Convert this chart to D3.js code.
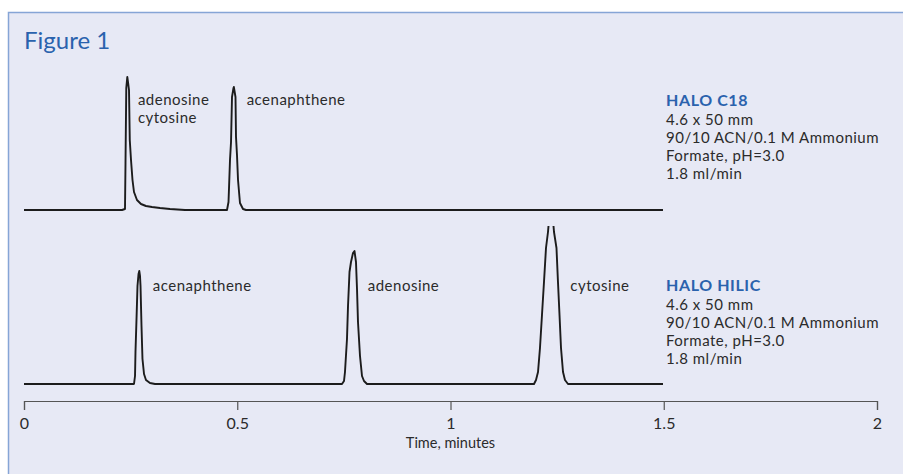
<!DOCTYPE html>
<html>
<head>
<meta charset="utf-8">
<script src="https://cdn.jsdelivr.net/npm/d3@7"></script>
<style>
  body { margin: 0; background: #fff; }
  text { font-family: Lato, "Open Sans", sans-serif; }
</style>
</head>
<body>
<div id="chart"></div>
<script>
// trace points: [time (min), detector signal]
var c18Time = [0, 0.2298, 0.2368, 0.2380, 0.2398, 0.2422, 0.2438, 0.2462, 0.2480, 0.2509, 0.2544, 0.2579,
  0.2649, 0.2743, 0.2860, 0.3001, 0.3189, 0.3423, 0.3775, 0.4760, 0.4795, 0.4807, 0.4830, 0.4854, 0.4877,
  0.4912, 0.4920, 0.4959, 0.4971, 0.4994, 0.5018, 0.5064, 0.5135, 0.5205, 1.4982];
var c18Signal = [0, 0, 1, 47, 122, 133, 128, 120, 70, 50, 30, 18,
  10, 6, 4, 3, 2, 1, 0, 0, 8, 22, 50, 68, 113,
  122, 123, 113, 73, 55, 30, 7, 1, 0, 0];

var hilicTime = [0, 0.2579, 0.2603, 0.2614, 0.2638, 0.2661, 0.2685, 0.2703, 0.2720, 0.2732, 0.2755, 0.2778,
  0.2814, 0.2860, 0.2954, 0.3072, 0.7456, 0.7503, 0.7526, 0.7573, 0.7597, 0.7632, 0.7667, 0.7714, 0.7749,
  0.7784, 0.7808, 0.7831, 0.7878, 0.7925, 0.7972, 0.8042, 1.1958, 1.2005, 1.2052, 1.2098, 1.2145, 1.2192,
  1.2239, 1.2286, 1.2321, 1.2356, 1.2391, 1.2427, 1.2485, 1.2520, 1.2556, 1.2591, 1.2638, 1.2684, 1.2755, 1.4982];
var hilicSignal = [0, 0, 8, 32, 65, 98, 110, 113, 108, 98, 58, 25,
  10, 4, 1, 0, 0, 3, 12, 45, 78, 112, 122, 131, 133,
  122, 95, 62, 28, 8, 3, 0, 0, 4, 12, 36, 69, 102,
  136, 152, 170, 185, 170, 152, 136, 102, 69, 36, 12, 4, 0, 0];

var c18Peaks = [["adenosine", 0.267], ["cytosine", 0.267], ["acenaphthene", 0.522]];
var hilicPeaks = [["acenaphthene", 0.302], ["adenosine", 0.806], ["cytosine", 1.281]];

var c18Legend = ["HALO C18", "4.6 x 50 mm", "90/10 ACN/0.1 M Ammonium", "Formate, pH=3.0", "1.8 ml/min"];
var hilicLegend = ["HALO HILIC", "4.6 x 50 mm", "90/10 ACN/0.1 M Ammonium", "Formate, pH=3.0", "1.8 ml/min"];

var tickValues = [0, 0.5, 1, 1.5, 2];

var W = 903, H = 474;
var svg = d3.select("#chart").append("svg")
  .attr("width", W).attr("height", H);

svg.append("rect").attr("width", W).attr("height", H).attr("fill", "#fff");
svg.append("rect").attr("x", 8).attr("y", 12).attr("width", W - 8).attr("height", H - 12)
  .attr("fill", "#e7e9f5");
svg.append("path").attr("d", "M8.5," + H + "V12.5H" + W)
  .attr("fill", "none").attr("stroke", "#86a5d6").attr("stroke-width", 1.5);

svg.append("text").attr("x", 24).attr("y", 49)
  .attr("fill", "#2a62ad").style("font-size", "24px").text("Figure 1");

var x = d3.scaleLinear().domain([0, 2]).range([24, 877]);

function drawTrace(times, signals, base, top, peaks, labelY) {
  var y = d3.scaleLinear().domain([0, 100]).range([base, base - 100]);
  var id = "clip" + base;
  svg.append("clipPath").attr("id", id).append("rect")
    .attr("x", 0).attr("y", top).attr("width", W).attr("height", base - top + 5);
  var pts = times.map(function(t, i) { return [t, signals[i]]; });
  svg.append("path").datum(pts)
    .attr("clip-path", "url(#" + id + ")")
    .attr("fill", "none").attr("stroke", "#1c1c1c").attr("stroke-width", 1.9)
    .attr("stroke-linejoin", "round")
    .attr("d", d3.line().x(function(d) { return x(d[0]); }).y(function(d) { return y(d[1]); }));

  var seen = {};
  svg.selectAll(null).data(peaks).enter().append("text")
    .attr("x", function(d) { return x(d[1]); })
    .attr("y", function(d) {
      var k = d[1]; var n = seen[k] || 0; seen[k] = n + 1;
      return labelY + n * 18;
    })
    .attr("fill", "#2b2b2b").style("font-size", "15px").style("letter-spacing", "0.5px")
    .text(function(d) { return d[0]; });
}

drawTrace(c18Time, c18Signal, 210, 60, c18Peaks, 105);
drawTrace(hilicTime, hilicSignal, 384, 226, hilicPeaks, 291);

function drawLegend(lines, y0) {
  var g = svg.append("g").attr("transform", "translate(666," + y0 + ")");
  g.selectAll("text").data(lines).enter().append("text")
    .attr("x", 0).attr("y", function(d, i) { return i === 0 ? 0 : 1 + i * 18; })
    .attr("fill", function(d, i) { return i === 0 ? "#2a62ad" : "#2b2b2b"; })
    .style("font-weight", function(d, i) { return i === 0 ? "bold" : "normal"; })
    .style("font-size", function(d, i) { return i === 0 ? "16px" : "15px"; })
    .style("letter-spacing", function(d, i) { return i === 0 ? "0.6px" : "0.5px"; })
    .text(function(d) { return d; });
}
drawLegend(c18Legend, 106);
drawLegend(hilicLegend, 291);

var axis = svg.append("g").attr("transform", "translate(0,401)")
  .call(d3.axisBottom(x).tickValues(tickValues).tickSize(9).tickPadding(8)
    .tickFormat(function(d) { return String(d); }));
axis.select(".domain").attr("stroke", "#555").attr("stroke-width", 1.2);
axis.selectAll(".tick line").attr("stroke", "#555").attr("stroke-width", 1.2);
axis.selectAll(".tick text").attr("fill", "#2b2b2b").style("font-size", "16px")
  .style("font-family", "Lato, sans-serif");

svg.append("text").attr("x", x(1)).attr("y", 448).attr("text-anchor", "middle")
  .attr("fill", "#2b2b2b").style("font-size", "14.5px").text("Time, minutes");
</script>
</body>
</html>
